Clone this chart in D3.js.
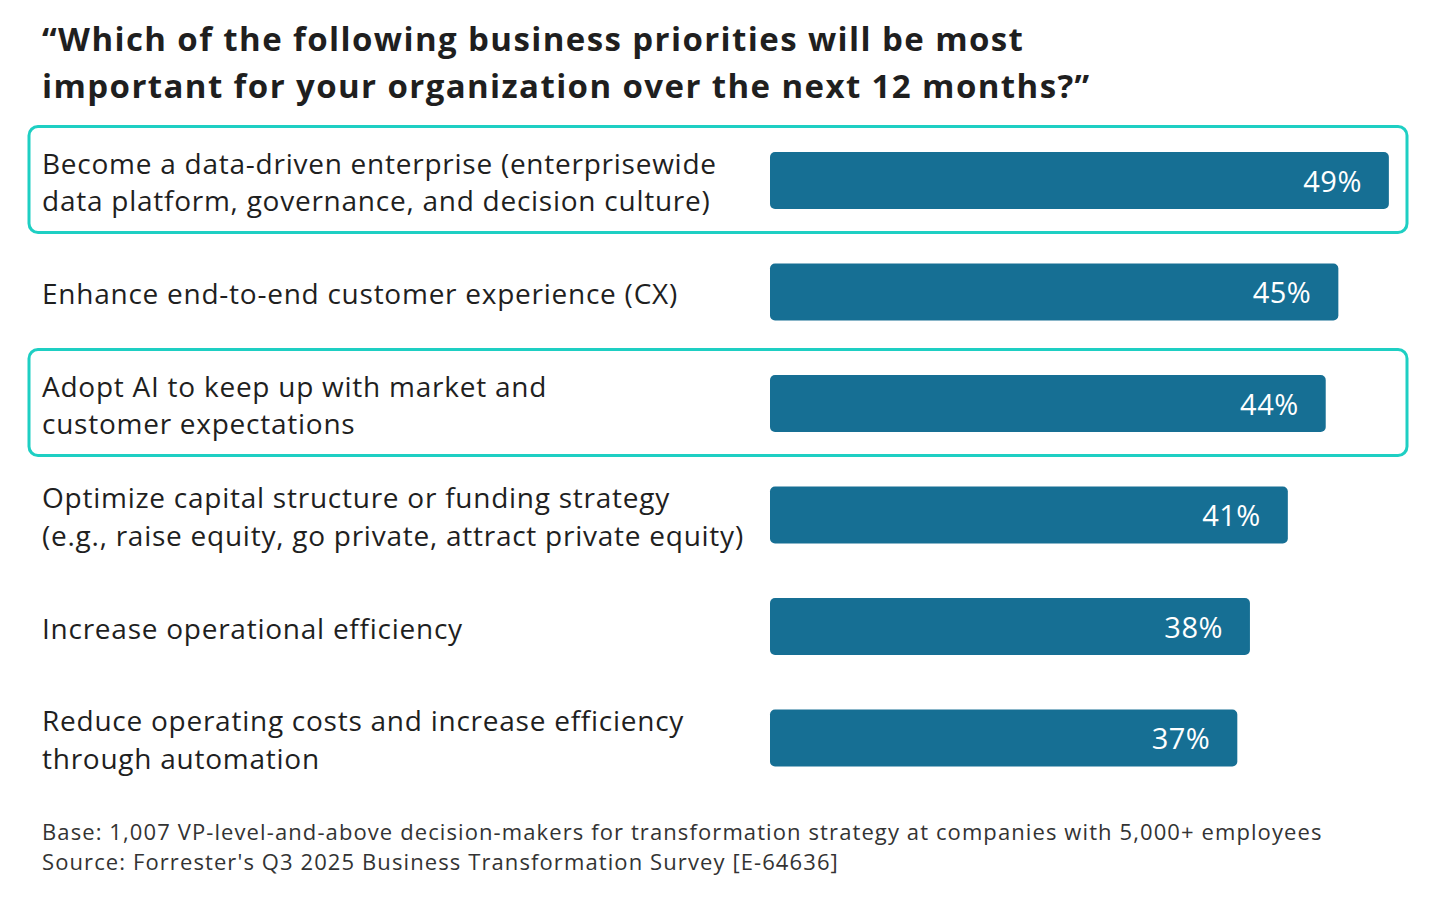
<!DOCTYPE html>
<html>
<head>
<meta charset="utf-8">
<title>Business priorities</title>
<style>
  body { margin: 0; background: #fff; }
  text { font-family: "Open Sans", Lato, sans-serif; }
</style>
</head>
<body>
<div id="chart"></div>
<script src="https://cdn.jsdelivr.net/npm/d3@7/dist/d3.min.js"></script>
<script>
// data
var categories = [
  ['Become a data-driven enterprise (enterprisewide', 'data platform, governance, and decision culture)'],
  ['Enhance end-to-end customer experience (CX)'],
  ['Adopt AI to keep up with market and', 'customer expectations'],
  ['Optimize capital structure or funding strategy', '(e.g., raise equity, go private, attract private equity)'],
  ['Increase operational efficiency'],
  ['Reduce operating costs and increase efficiency', 'through automation']
];
var values = [49, 45, 44, 41, 38, 37];
var highlighted = [true, false, true, false, false, false];
var titleLines = ['\u201CWhich of the following business priorities will be most',
  'important for your organization over the next 12 months?\u201D'];
var notes = ['Base: 1,007 VP-level-and-above decision-makers for transformation strategy at companies with 5,000+ employees',
  "Source: Forrester's Q3 2025 Business Transformation Survey [E-64636]"];

var W = 1455, H = 911;
var barColor = '#166f94', boxColor = '#1ecfc3', textColor = '#1f1f1f';

var svg = d3.select('#chart').append('svg')
  .attr('width', W).attr('height', H);

// title
svg.append('g').selectAll('text').data(titleLines).enter().append('text')
  .attr('x', 42).attr('y', (d, i) => 51 + i * 47)
  .style('font-size', '33px').style('font-weight', 700).style('fill', textColor)
  .style('letter-spacing', '1.4px')
  .text(d => d);

var idx = d3.range(values.length);
var y = d3.scaleBand().domain(idx)
  .range([124.75, 793.75])
  .paddingInner(0.489).paddingOuter(0.2445);
var x = d3.scaleLinear().domain([0, 100]).range([770, 2033]);

var rowC = i => y(i) + y.bandwidth() / 2;

// highlight boxes
svg.append('g').selectAll('rect').data(idx.filter(i => highlighted[i])).enter().append('rect')
  .attr('x', 29).attr('width', 1378)
  .attr('y', i => rowC(i) - 54).attr('height', 106)
  .attr('rx', 9)
  .attr('fill', 'none').attr('stroke', boxColor).attr('stroke-width', 3);

// bars
svg.append('g').selectAll('rect').data(idx).enter().append('rect')
  .attr('x', x(0)).attr('y', i => y(i))
  .attr('width', i => x(values[i]) - x(0))
  .attr('height', y.bandwidth())
  .attr('rx', 5)
  .attr('fill', barColor);

// value labels
svg.append('g').selectAll('text').data(idx).enter().append('text')
  .attr('x', i => x(values[i]) - 27)
  .attr('y', i => rowC(i) + 11)
  .attr('text-anchor', 'end')
  .style('font-size', '29px').style('fill', '#fff')
  .style('letter-spacing', '0.5px')
  .text(i => values[i] + '%');

// category labels
var lab = svg.append('g').selectAll('text').data(idx).enter().append('text')
  .style('font-size', '28px').style('fill', textColor)
  .style('letter-spacing', '0.75px');
lab.each(function(i) {
  var lines = categories[i];
  var t = d3.select(this);
  lines.forEach(function(l, k) {
    t.append('tspan').attr('x', 42)
      .attr('y', rowC(i) + 12 + (k - (lines.length - 1) / 2) * 37.5)
      .text(l);
  });
});

// footnotes
svg.append('g').selectAll('text').data(notes).enter().append('text')
  .attr('x', 42).attr('y', (d, i) => 840 + i * 30)
  .style('font-size', '22px').style('fill', '#333')
  .style('letter-spacing', '1.1px')
  .text(d => d);
</script>
</body>
</html>
